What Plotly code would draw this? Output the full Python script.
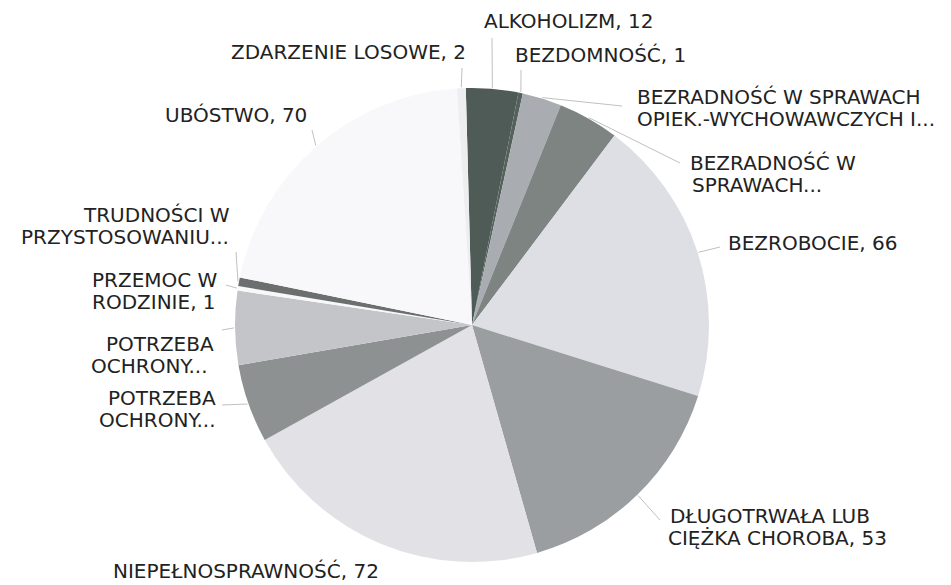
import math
import plotly.graph_objects as go

# ---------------- data ----------------
categories = [
    "ALKOHOLIZM",
    "BEZDOMNOŚĆ",
    "BEZRADNOŚĆ W SPRAWACH OPIEK.-WYCHOWAWCZYCH I...",
    "BEZRADNOŚĆ W SPRAWACH...",
    "BEZROBOCIE",
    "DŁUGOTRWAŁA LUB CIĘŻKA CHOROBA",
    "NIEPEŁNOSPRAWNOŚĆ",
    "POTRZEBA OCHRONY...",
    "POTRZEBA OCHRONY...",
    "PRZEMOC W RODZINIE",
    "TRUDNOŚCI W PRZYSTOSOWANIU...",
    "UBÓSTWO",
    "ZDARZENIE LOSOWE",
]
values = [12, 1, 9, 14, 66, 53, 72, 18, 17, 1, 2, 70, 2]

# label text lines ({v} = value of the slice)
label_lines = [
    ["ALKOHOLIZM, {v}"],
    ["BEZDOMNOŚĆ, {v}"],
    ["BEZRADNOŚĆ W SPRAWACH", "OPIEK.-WYCHOWAWCZYCH I..."],
    ["BEZRADNOŚĆ W", "SPRAWACH..."],
    ["BEZROBOCIE, {v}"],
    ["DŁUGOTRWAŁA LUB", "CIĘŻKA CHOROBA, {v}"],
    ["NIEPEŁNOSPRAWNOŚĆ, {v}"],
    ["POTRZEBA", "OCHRONY..."],
    ["POTRZEBA", "OCHRONY..."],
    ["PRZEMOC W", "RODZINIE, {v}"],
    ["TRUDNOŚCI W", "PRZYSTOSOWANIU..."],
    ["UBÓSTWO, {v}"],
    ["ZDARZENIE LOSOWE, {v}"],
]

# ---------------- styles / layout ----------------
slice_colors = ["#4e5b56", "#55615c", "#a9acb0", "#7e8481", "#dedfe4", "#9b9ea1",
                "#e2e2e6", "#8e9191", "#c3c5c8", "#f8f8fa", "#6b706f", "#f8f8fa", "#eeeef1"]

W, H = 951, 585
CX, CY, R = 472, 325, 237
ROT = -1.5

# label line centres (pixels) for each category
label_pos = [
    [(569, 21)],
    [(600, 55)],
    [(779, 97), (786, 119)],
    [(773, 163), (757, 185)],
    [(812, 243)],
    [(770, 516), (777, 538)],
    [(246, None)],
    [(162, 398), (157, 420)],
    [(160, 344), (149, 366)],
    [(155, 280), (154, 302)],
    [(156, 215), (125, 237)],
    [(236, 115)],
    [(348, 52)],
]
# label-side end of leader line (None = no leader)
leader_end = [
    (492, 38), (521, 70), (622, 106), (680, 163), (720, 247), (660, 520), None,
    (222, 405), (222, 330), (226, 285), (236, 252), (312, 130), (462, 68),
]

FONT = dict(family="DejaVu Sans, sans-serif", size=20, color="#222222")


def px(x, y):
    return x / W, 1 - y / H


fig = go.Figure(go.Pie(
    values=values,
    hovertext=categories,
    hoverinfo="text+value",
    sort=False,
    direction="clockwise",
    rotation=ROT,
    textinfo="none",
    marker=dict(colors=slice_colors, line=dict(width=0)),
    domain=dict(x=[(CX - R) / W, (CX + R) / W], y=[1 - (CY + R) / H, 1 - (CY - R) / H]),
    showlegend=False,
))

total = sum(values)
cum = 0
shapes = []
annotations = []
for i, v in enumerate(values):
    mid = ROT + (cum + v / 2) / total * 360
    cum += v
    a = math.radians(mid)
    sx, sy = CX + (R + 1) * math.sin(a), CY - (R + 1) * math.cos(a)
    if leader_end[i] is not None:
        ex, ey = leader_end[i]
        x0, y0 = px(sx, sy)
        x1, y1 = px(ex, ey)
        shapes.append(dict(type="line", xref="paper", yref="paper", x0=x0, y0=y0, x1=x1, y1=y1,
                           line=dict(color="#b0b0b0", width=0.8)))
    for line, (lx, ly) in zip(label_lines[i], label_pos[i]):
        if ly is None:  # sits on the bottom edge
            annotations.append(dict(text=line.format(v=v), x=lx / W, y=0, xref="paper", yref="paper",
                                    xanchor="center", yanchor="bottom", showarrow=False, font=FONT))
            continue
        ax, ay = px(lx, ly)
        annotations.append(dict(text=line.format(v=v), x=ax, y=ay, xref="paper", yref="paper",
                                xanchor="center", yanchor="middle", showarrow=False, font=FONT))

fig.update_layout(
    width=W, height=H,
    margin=dict(l=0, r=0, t=0, b=0),
    paper_bgcolor="white", plot_bgcolor="white",
    shapes=shapes, annotations=annotations,
)

fig.write_html("out.html", config={"displayModeBar": False},
               post_script="document.body.style.margin='0';")
